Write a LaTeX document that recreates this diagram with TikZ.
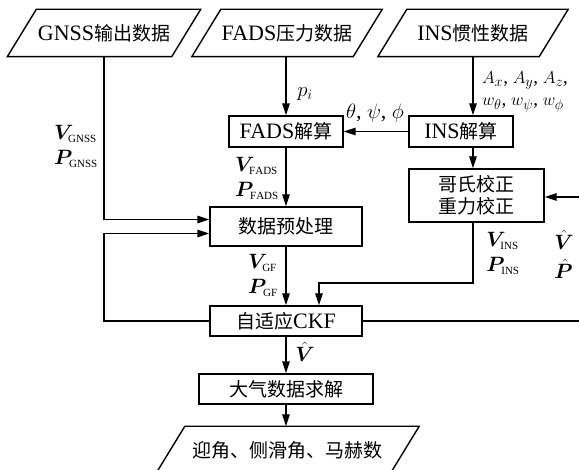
\documentclass[tikz,border=0pt]{standalone}
\usepackage{fontspec}
\usepackage{bm}
\setmainfont{Liberation Serif}
\newfontfamily\cjk{Noto Sans CJK SC}
\usetikzlibrary{arrows.meta}
\newcommand\zh[1]{{\cjk\fontsize{19}{24}\selectfont #1}}
\begin{document}
\begin{tikzpicture}[x=1pt,y=-1pt,line width=1.4pt,
  arr/.style={-{Triangle[length=12pt,width=7.5pt]}},
  rbox/.style={draw,inner sep=0pt,align=center,font=\fontsize{22}{24}\selectfont},
  pbox/.style={inner sep=0pt,align=center,font=\fontsize{22}{24}\selectfont},
  lab/.style={inner sep=0pt,align=left,font=\fontsize{22}{25}\selectfont}]
\useasboundingbox (0,0) rectangle (579,470);
\clip (0,0) rectangle (579,470);
% input / output parallelograms (text holders)
\node[pbox,minimum width=163pt,minimum height=46pt] (gnss) at (104,33) {GNSS\zh{输出数据}};
\node[pbox,minimum width=160pt,minimum height=46pt] (fads) at (287,33) {FADS\zh{压力数据}};
\node[pbox,minimum width=160pt,minimum height=46pt] (ins) at (473,33) {INS\zh{惯性数据}};
\node[pbox,minimum width=233pt,minimum height=46pt] (out) at (287.5,450) {\zh{迎角、侧滑角、马赫数}};
\foreach \n in {gnss,fads,ins,out}
  \draw ([xshift=-14.5pt]\n.south west) -- ([xshift=-14.5pt]\n.south east)
     -- ([xshift=14.5pt]\n.north east) -- ([xshift=14.5pt]\n.north west) -- cycle;
% process boxes
\node[rbox,minimum width=114pt,minimum height=31pt] (fadsj) at (286,131.5) {FADS\zh{解算}};
\node[rbox,minimum width=104pt,minimum height=31pt] (insj) at (461,131.5) {INS\zh{解算}};
\node[rbox,minimum width=135pt,minimum height=53pt] (gez) at (476.5,195.5) {\zh{哥氏校正}\\[-2pt]\zh{重力校正}};
\node[rbox,minimum width=152pt,minimum height=39pt] (pre) at (286,226.5) {\zh{数据预处理}};
\node[rbox,minimum width=152pt,minimum height=30pt] (ckf) at (286,321) {\zh{自适应}CKF};
\node[rbox,minimum width=174pt,minimum height=30pt] (air) at (286,389) {\zh{大气数据求解}};
% free ends and bends
\coordinate (rin) at (579,197);
\coordinate (rout) at (579,321);
\coordinate (bend) at (319,283);
% connectors
\draw[arr] (fadsj.north |- fads.south) -- (fadsj.north);
\draw[arr] (ins.south) -- (ins.south |- insj.north);
\draw[arr] (ins.south |- insj.south) -- (ins.south |- gez.north);
\draw[arr] (insj.west) -- (fadsj.east);
\draw[arr] (gnss.south) |- ([yshift=7pt]pre.west);
\draw[arr] (fadsj.south) -- (pre.north);
\draw[arr] (pre.south) -- (ckf.north);
\draw[arr] (ckf.west) -- (ckf.west -| gnss.south) |- ([yshift=-7pt]pre.west);
\draw[arr] (ins.south |- gez.south) |- (bend) -- (bend |- ckf.north);
\draw (ckf.east) -- (rout);
\draw[arr] (rin) -- (rin -| gez.east);
\draw[arr] (ckf.south) -- (air.north);
\draw[arr] (air.south) -- (air.south |- out.north);
% labels
\node[lab] (lgnss) at (76,146) {$\bm{V}_{\scriptscriptstyle\mathrm{GNSS}}$\\$\bm{P}_{\scriptscriptstyle\mathrm{GNSS}}$};
\node[lab] (lpi) at (305,94) {$p_i$};
\node[lab] (lang) at (375,113) {$\theta$, $\psi$, $\phi$};
\node[lab,font=\fontsize{19}{22}\selectfont] (lacc) at (525,92) {$A_x$, $A_y$, $A_z$,\\$w_\theta$, $w_\psi$, $w_\phi$};
\node[lab] (lfads) at (257,178) {$\bm{V}_{\scriptscriptstyle\mathrm{FADS}}$\\$\bm{P}_{\scriptscriptstyle\mathrm{FADS}}$};
\node[lab] (lins) at (503,253) {$\bm{V}_{\scriptscriptstyle\mathrm{INS}}$\\$\bm{P}_{\scriptscriptstyle\mathrm{INS}}$};
\node[lab,font=\fontsize{22}{29}\selectfont] (lhat) at (564,254) {$\hat{\bm{V}}$\\$\hat{\bm{P}}$};
\node[lab] (lgf) at (263,275) {$\bm{V}_{\scriptscriptstyle\mathrm{GF}}$\\$\bm{P}_{\scriptscriptstyle\mathrm{GF}}$};
\node[lab] (lvh) at (305,352) {$\hat{\bm{V}}$};
\end{tikzpicture}
\end{document}
